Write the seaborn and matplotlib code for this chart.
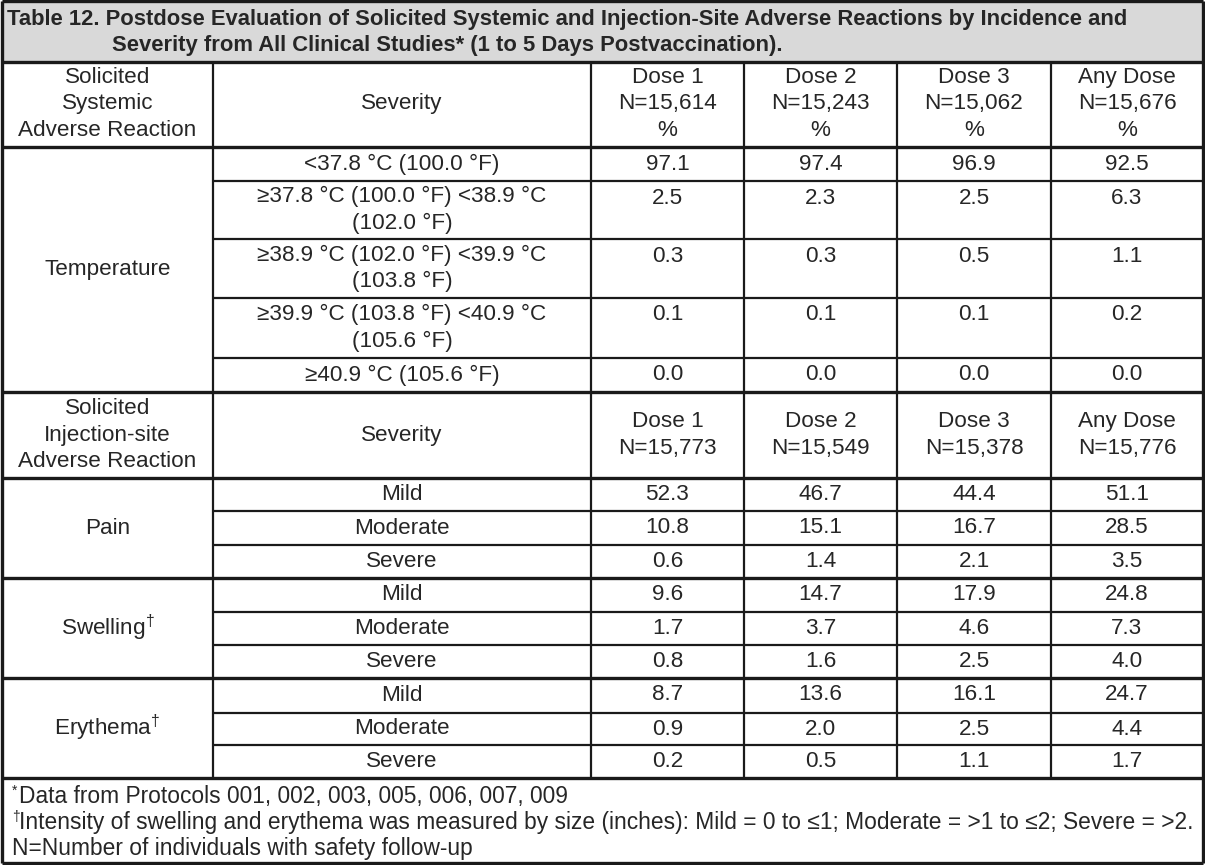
import numpy as np
import matplotlib.pyplot as plt
import seaborn as sns
import pandas as pd

sns.set_style("white")
plt.rcParams['font.family'] = ['Liberation Sans', 'DejaVu Sans']
plt.rcParams['mathtext.fontset'] = 'custom'
plt.rcParams['mathtext.rm'] = 'Liberation Sans'

# data
dose_cols = ["Dose 1", "Dose 2", "Dose 3", "Any Dose"]
systemic_n = ["15,614", "15,243", "15,062", "15,676"]
injection_n = ["15,773", "15,549", "15,378", "15,776"]

temp_labels = ["<37.8 °C (100.0 °F)",
               "≥37.8 °C (100.0 °F) <38.9 °C\n(102.0 °F)",
               "≥38.9 °C (102.0 °F) <39.9 °C\n(103.8 °F)",
               "≥39.9 °C (103.8 °F) <40.9 °C\n(105.6 °F)",
               "≥40.9 °C (105.6 °F)"]
temp_dose1 = [97.1, 2.5, 0.3, 0.1, 0.0]
temp_dose2 = [97.4, 2.3, 0.3, 0.1, 0.0]
temp_dose3 = [96.9, 2.5, 0.5, 0.1, 0.0]
temp_any = [92.5, 6.3, 1.1, 0.2, 0.0]

site_names = ["Pain", "Swelling", "Erythema"]
severity = ["Mild", "Moderate", "Severe"]
site_dose1 = [52.3, 10.8, 0.6, 9.6, 1.7, 0.8, 8.7, 0.9, 0.2]
site_dose2 = [46.7, 15.1, 1.4, 14.7, 3.7, 1.6, 13.6, 2.0, 0.5]
site_dose3 = [44.4, 16.7, 2.1, 17.9, 4.6, 2.5, 16.1, 2.5, 1.1]
site_any = [51.1, 28.5, 3.5, 24.8, 7.3, 4.0, 24.7, 4.4, 1.7]

title_lines = ["Table 12. Postdose Evaluation of Solicited Systemic and Injection-Site Adverse Reactions by Incidence and",
               "Severity from All Clinical Studies* (1 to 5 Days Postvaccination)."]
foot_marks = ["*", "†", ""]
footnotes = ["Data from Protocols 001, 002, 003, 005, 006, 007, 009",
             "Intensity of swelling and erythema was measured by size (inches): Mild = 0 to ≤1; Moderate = >1 to ≤2; Severe = >2.",
             "N=Number of individuals with safety follow-up"]

temp = pd.DataFrame({"label": temp_labels, "Dose 1": temp_dose1, "Dose 2": temp_dose2,
                     "Dose 3": temp_dose3, "Any Dose": temp_any})
site = pd.DataFrame({"reaction": np.repeat(site_names, 3), "severity": severity * 3,
                     "Dose 1": site_dose1, "Dose 2": site_dose2,
                     "Dose 3": site_dose3, "Any Dose": site_any})

# layout (pixels)
W, H = 1205, 865
col_x = [2, 213, 591, 744, 897, 1051, 1203]
temp_edges = [147, 181, 239, 298, 358, 392]
site_edges = [478, 511, 545, 578, 612, 645, 678, 713, 745, 778]
FS = 16.2
LS = 26.5
LINE = "#1a1a1a"

fig = plt.figure(figsize=(W / 100, H / 100), dpi=100)
ax = fig.add_axes([0, 0, 1, 1])
ax.set_xlim(0, W)
ax.set_ylim(H, 0)
ax.axis("off")


def cell_text(x, y, s, ha="center", **kw):
    lines = s.split("\n")
    y0 = y - (len(lines) - 1) * LS / 2
    for i, ln in enumerate(lines):
        ax.text(x, y0 + i * LS, ln, ha=ha, va="center", fontsize=FS, **kw)


def hline(y, x0, x1, lw=1.6):
    ax.plot([x0, x1], [y, y], color=LINE, lw=lw, solid_capstyle="butt")


def vline(x, y0, y1, lw=1.6):
    ax.plot([x, x], [y0, y1], color=LINE, lw=lw, solid_capstyle="butt")


# title band
ax.fill_between([col_x[0], col_x[-1]], 1, 62, color="#d9d9d9", lw=0)
ax.text(7, 19, title_lines[0], ha="left", va="center", fontsize=15.85, fontweight="bold")
ax.text(112, 45, title_lines[1], ha="left", va="center", fontsize=15.85, fontweight="bold")

mid = [(col_x[i] + col_x[i + 1]) / 2 for i in range(len(col_x) - 1)]

# header 1
cell_text(mid[0], 104, "Solicited\nSystemic\nAdverse Reaction")
cell_text(mid[1], 104, "Severity")
for j, d in enumerate(dose_cols):
    cell_text(mid[2 + j], 104, f"{d}\nN={systemic_n[j]}\n%")

# temperature rows
cell_text(mid[0], (temp_edges[0] + temp_edges[-1]) / 2, "Temperature")
for i, row in temp.iterrows():
    top, bot = temp_edges[i], temp_edges[i + 1]
    cell_text(mid[1], (top + bot) / 2, row["label"])
    for j, d in enumerate(dose_cols):
        cell_text(mid[2 + j], top + 17, f"{row[d]:.1f}")

# header 2
cell_text(mid[0], 435, "Solicited\nInjection-site\nAdverse Reaction")
cell_text(mid[1], 435, "Severity")
for j, d in enumerate(dose_cols):
    cell_text(mid[2 + j], 435, f"{d}\nN={injection_n[j]}")

# injection-site rows
for k, name in enumerate(site_names):
    gtop, gbot = site_edges[3 * k], site_edges[3 * k + 3]
    label = name if k == 0 else name + r"$^{\dagger}$"
    cell_text(mid[0], (gtop + gbot) / 2, label)
for i, row in site.iterrows():
    top, bot = site_edges[i], site_edges[i + 1]
    cell_text(mid[1], (top + bot) / 2, row["severity"])
    for j, d in enumerate(dose_cols):
        cell_text(mid[2 + j], top + 16.5, f"{row[d]:.1f}")

# footnotes
for i, (m, s) in enumerate(zip(foot_marks, footnotes)):
    y = 797 + i * 26
    x = 12
    if m:
        ax.text(12, y - 6, m, ha="left", va="center", fontsize=10)
        x = 19
    ax.text(x, y, s, ha="left", va="center", fontsize=16.4)

# grid lines
thick = 2.4
hline(1, col_x[0], col_x[-1], thick)
hline(62, col_x[0], col_x[-1], thick)
hline(147, col_x[0], col_x[-1], thick)
for y in temp_edges[1:-1]:
    hline(y, col_x[1], col_x[-1])
hline(392, col_x[0], col_x[-1], thick)
hline(478, col_x[0], col_x[-1], thick)
for i, y in enumerate(site_edges[1:-1], start=1):
    if i % 3 == 0:
        hline(y, col_x[0], col_x[-1], thick)
    else:
        hline(y, col_x[1], col_x[-1])
hline(778, col_x[0], col_x[-1], thick)
hline(863, col_x[0], col_x[-1], thick)
vline(col_x[0], 1, 863, thick)
vline(col_x[-1], 1, 863, thick)
for x in col_x[1:-1]:
    vline(x, 62, 778)

fig.savefig("out.png", dpi=100)
